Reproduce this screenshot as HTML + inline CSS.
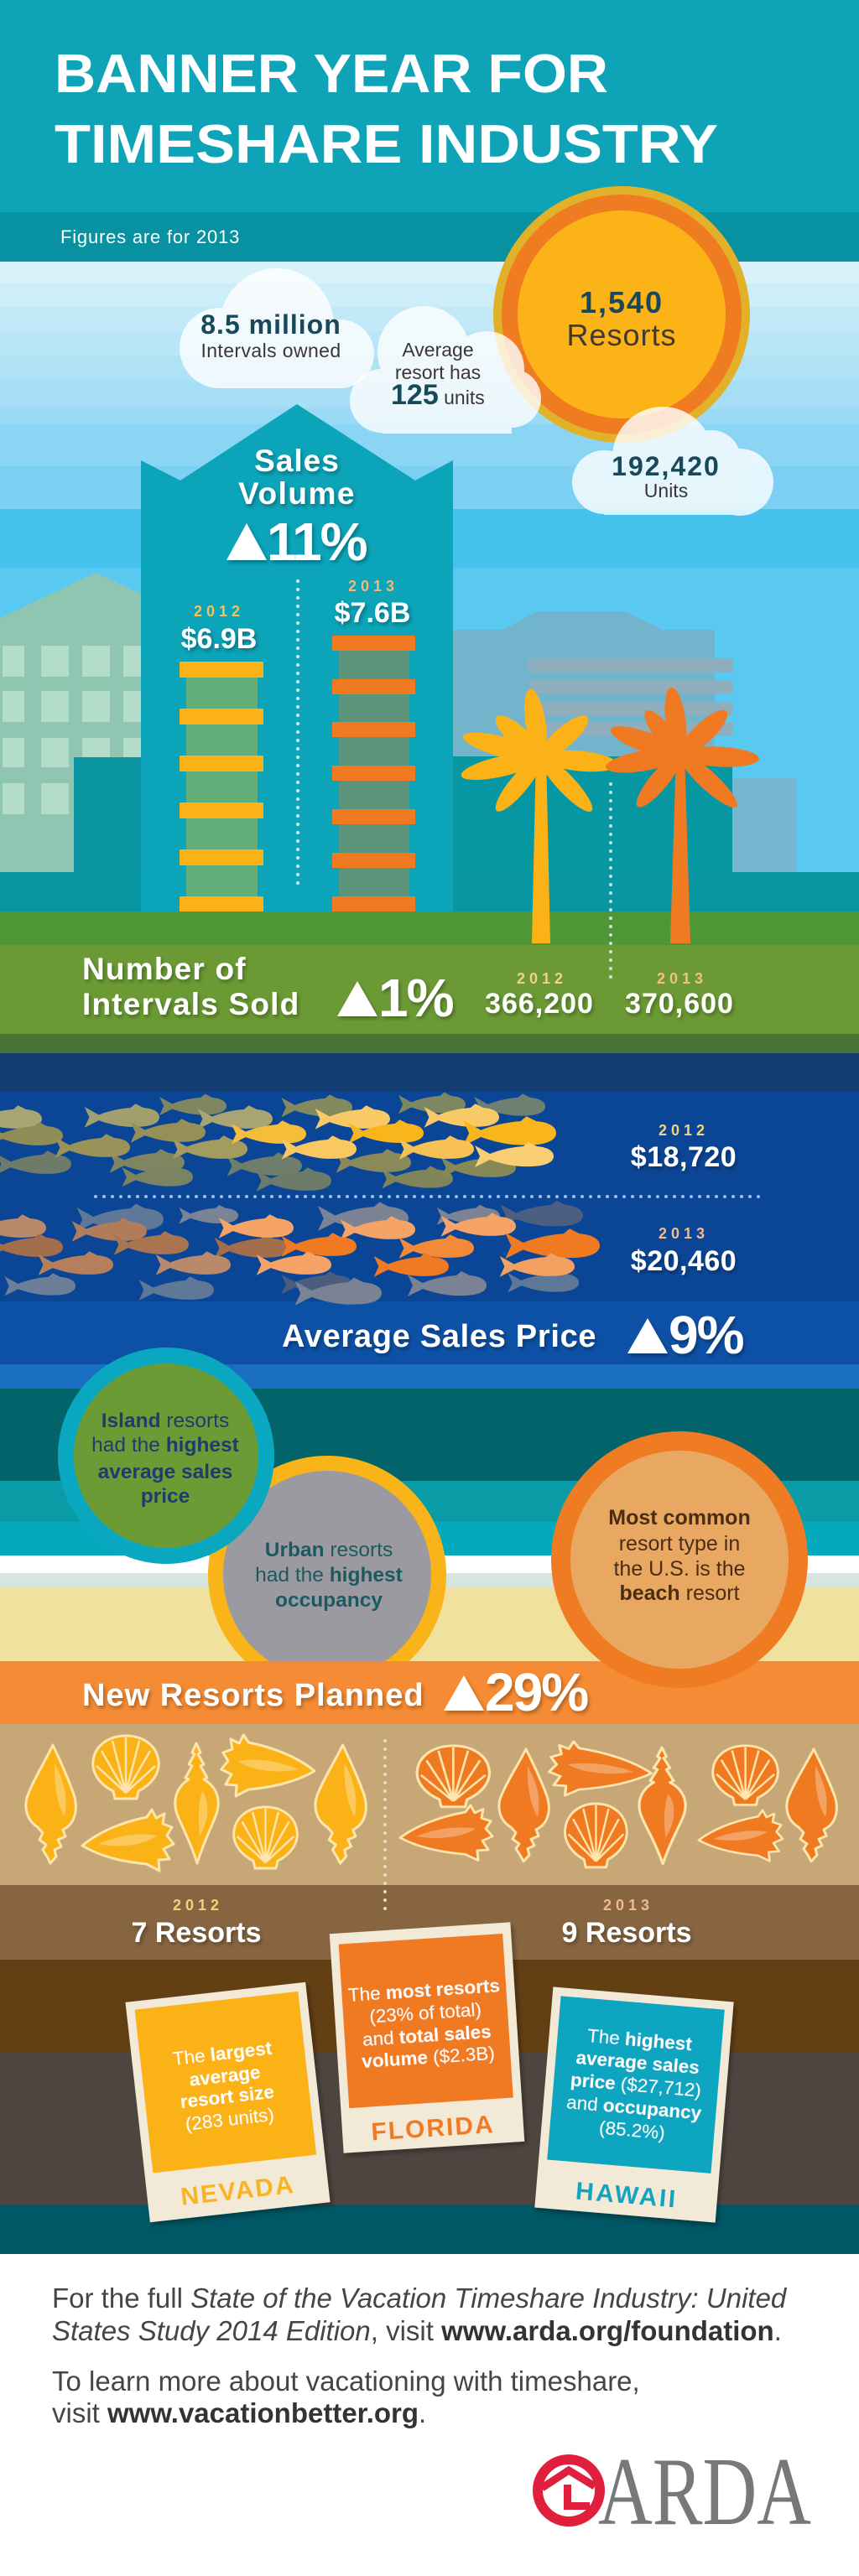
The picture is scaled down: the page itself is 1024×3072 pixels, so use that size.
<!DOCTYPE html>
<html>
<head>
<meta charset="utf-8">
<style>
html,body{margin:0;padding:0;background:#fff;}
svg{display:block;}
text{font-family:"Liberation Sans",Arial,sans-serif;}
</style>
</head>
<body>
<svg width="1024" height="3072" viewBox="0 0 1024 3072" xmlns="http://www.w3.org/2000/svg">
<defs>
<filter id="sh" x="-10%" y="-20%" width="130%" height="160%"><feDropShadow dx="2" dy="3" stdDeviation="2" flood-color="#000" flood-opacity="0.3"/></filter>
<filter id="csh" x="-10%" y="-10%" width="130%" height="130%"><feDropShadow dx="3" dy="4" stdDeviation="3" flood-color="#000" flood-opacity="0.3"/></filter>
<path id="fish" d="M100,13 C100,6 92,2 80,1 L70,-4 L64,1 C50,2 36,5 24,10 L6,0 L12,13 L6,26 L24,17 C38,22 55,26 72,25 C90,25 100,20 100,13 Z"/>
<g id="conchV">
<path fill="currentColor" stroke="#fde6ae" stroke-width="3" stroke-linejoin="round" d="M36,3 C45,22 54,42 61,62 C67,82 61,98 48,104 L51,112 L42,116 L46,124 L38,128 L40,136 L33,144 L29,136 L24,128 L28,122 L20,116 L24,108 L18,101 C5,93 1,77 6,63 C13,44 27,22 36,3 Z"/>
<path fill="#fff" fill-opacity="0.3" d="M38,24 C47,42 55,62 50,88 C42,76 37,52 38,24 Z"/>
</g>
<g id="scallop">
<path fill="currentColor" stroke="#fde6ae" stroke-width="3" stroke-linejoin="round" d="M30,77 L56,77 L58,68 C74,60 84,46 82,32 C80,14 64,2 43,2 C22,2 6,14 4,32 C2,46 12,60 28,68 Z"/>
<path fill="none" stroke="#fde6ae" stroke-width="2.5" d="M43,70 L8,38 M43,70 L14,20 M43,70 L27,8 M43,70 L43,4 M43,70 L59,8 M43,70 L72,20 M43,70 L78,38"/>
</g>
<g id="conchH">
<path fill="currentColor" stroke="#fde6ae" stroke-width="3" stroke-linejoin="round" d="M3,44 C22,28 50,16 80,10 L86,1 L91,11 L101,6 L99,18 L110,22 L104,32 L112,42 L100,48 L107,60 L94,61 L95,74 L80,66 C60,64 30,60 3,44 Z"/>
<path fill="#fff" fill-opacity="0.3" d="M22,42 C45,32 70,28 92,32 C80,42 50,48 22,42 Z"/>
</g>
<g id="spiral">
<path fill="currentColor" stroke="#fde6ae" stroke-width="3" stroke-linejoin="round" d="M29,1 L34,12 L31,14 L38,26 L34,28 L42,42 L38,44 C52,52 58,66 54,82 C50,96 40,112 30,144 C20,112 9,96 5,82 C1,66 7,52 20,44 L16,42 L24,28 L20,26 L27,14 L24,12 Z"/>
<path fill="#fff" fill-opacity="0.3" d="M36,58 C45,70 45,92 33,112 C31,92 31,74 36,58 Z"/>
</g>
</defs>

<!-- ===== HEADER ===== -->
<rect x="0" y="0" width="1024" height="253" fill="#0ea3b6"/>
<rect x="0" y="253" width="1024" height="59" fill="#0892a1"/>
<text x="65" y="110" font-size="65" font-weight="bold" fill="#fff" textLength="660" lengthAdjust="spacingAndGlyphs">BANNER YEAR FOR</text>
<text x="65" y="194" font-size="65" font-weight="bold" fill="#fff" textLength="791" lengthAdjust="spacingAndGlyphs">TIMESHARE INDUSTRY</text>
<text x="72" y="290" font-size="22" fill="#fff" letter-spacing="0.8">Figures are for 2013</text>

<!-- ===== SKY ===== -->
<rect x="0" y="312" width="1024" height="26" fill="#d9f1fa"/>
<rect x="0" y="338" width="1024" height="28" fill="#cdedf9"/>
<rect x="0" y="366" width="1024" height="29" fill="#c3e9f8"/>
<rect x="0" y="395" width="1024" height="29" fill="#b9e6f7"/>
<rect x="0" y="424" width="1024" height="29" fill="#b0e2f6"/>
<rect x="0" y="453" width="1024" height="34" fill="#a6dff5"/>
<rect x="0" y="487" width="1024" height="19" fill="#9adaf5"/>
<rect x="0" y="506" width="1024" height="50" fill="#8ad5f4"/>
<rect x="0" y="556" width="1024" height="51" fill="#7bd0f3"/>
<rect x="0" y="607" width="1024" height="70" fill="#45c3ee"/>
<rect x="0" y="677" width="1024" height="410" fill="#5ac9f2"/>

<!-- background city -->
<polygon points="0,737 114,683 168,708 168,1040 0,1040" fill="#8fc6b1"/>
<g fill="#b4dcca">
<rect x="3" y="770" width="26" height="37"/><rect x="49" y="770" width="33" height="37"/><rect x="98" y="770" width="33" height="37"/><rect x="147" y="770" width="21" height="37"/>
<rect x="3" y="824" width="26" height="37"/><rect x="49" y="824" width="33" height="37"/><rect x="98" y="824" width="33" height="37"/><rect x="147" y="824" width="21" height="37"/>
<rect x="3" y="880" width="26" height="35"/><rect x="49" y="880" width="33" height="35"/><rect x="98" y="880" width="33" height="35"/><rect x="147" y="880" width="21" height="35"/>
<rect x="3" y="934" width="26" height="37"/><rect x="49" y="934" width="33" height="37"/>
</g>
<rect x="88" y="903" width="80" height="137" fill="#0a96a2"/>
<polygon points="540,751 600,751 640,729 745,729 790,751 852,751 852,1087 540,1087" fill="#72b4cc"/>
<g fill="#8eaebe">
<rect x="630" y="785" width="243" height="17"/>
<rect x="630" y="811" width="243" height="16"/>
<rect x="630" y="837" width="243" height="16"/>
<rect x="630" y="862" width="243" height="16"/>
</g>
<rect x="540" y="902" width="333" height="185" fill="#0797a3"/>
<rect x="873" y="928" width="77" height="112" fill="#76b6cf"/>
<rect x="0" y="1040" width="1024" height="47" fill="#0896a2"/>

<!-- sun -->
<circle cx="741" cy="375" r="153" fill="#e2b12a"/>
<circle cx="741" cy="375" r="143" fill="#f07c22"/>
<circle cx="741" cy="375" r="124" fill="#fbb317"/>
<text x="741" y="373" text-anchor="middle" font-size="36" font-weight="bold" fill="#17495b" letter-spacing="2">1,540</text>
<text x="741" y="412" text-anchor="middle" font-size="36" fill="#3f3a36" letter-spacing="1">Resorts</text>

<!-- clouds -->
<g opacity="0.8" fill="#fff">
<circle cx="330" cy="388" r="68"/><circle cx="262" cy="415" r="48"/><circle cx="405" cy="422" r="41"/><rect x="262" y="400" width="143" height="63"/>
</g>
<g opacity="0.8" fill="#fff">
<circle cx="505" cy="420" r="55"/><circle cx="580" cy="440" r="45"/><circle cx="610" cy="475" r="35"/><circle cx="455" cy="478" r="38"/><rect x="455" y="440" width="155" height="77"/>
</g>
<g opacity="0.8" fill="#fff">
<circle cx="790" cy="545" r="60"/><circle cx="720" cy="575" r="38"/><circle cx="882" cy="575" r="40"/><circle cx="848" cy="548" r="35"/><rect x="720" y="560" width="162" height="54"/>
</g>
<text x="323" y="398" text-anchor="middle" font-size="32" font-weight="bold" fill="#17495b" letter-spacing="1">8.5 million</text>
<text x="323" y="426" text-anchor="middle" font-size="23" fill="#3d3535" letter-spacing="0.4">Intervals owned</text>
<text x="522" y="425" text-anchor="middle" font-size="23" fill="#3d3535">Average</text>
<text x="522" y="452" text-anchor="middle" font-size="23" fill="#3d3535">resort has</text>
<text x="466" y="482" font-size="23" fill="#3d3535"><tspan font-size="34" font-weight="bold" fill="#17495b">125</tspan> units</text>
<text x="794" y="567" text-anchor="middle" font-size="32" font-weight="bold" fill="#17495b" letter-spacing="2">192,420</text>
<text x="794" y="593" text-anchor="middle" font-size="23" fill="#3d3535">Units</text>

<!-- sales volume building -->
<polygon points="168,549 215,573 354,482 495,573 540,549 540,1087 168,1087" fill="#0ba4b8"/>
<g filter="url(#sh)" fill="#fff">
<text x="354" y="562" text-anchor="middle" font-size="37" font-weight="bold" letter-spacing="1">Sales</text>
<text x="354" y="601" text-anchor="middle" font-size="37" font-weight="bold" letter-spacing="1.5">Volume</text>
<polygon points="270,668 294,624 318,668"/>
<text x="318" y="668" font-size="64" font-weight="bold" letter-spacing="-2">11%</text>
</g>
<line x1="355" y1="693" x2="355" y2="1061" stroke="#d5f0f3" stroke-width="4" stroke-linecap="round" stroke-dasharray="0 10"/>
<text x="261" y="735" text-anchor="middle" font-size="18" font-weight="bold" fill="#f4c15a" letter-spacing="5">2012</text>
<text x="261" y="773" text-anchor="middle" font-size="34" font-weight="bold" fill="#fff" filter="url(#sh)">$6.9B</text>
<text x="445" y="705" text-anchor="middle" font-size="18" font-weight="bold" fill="#f2b87a" letter-spacing="5">2013</text>
<text x="444" y="742" text-anchor="middle" font-size="34" font-weight="bold" fill="#fff" filter="url(#sh)">$7.6B</text>
<rect x="222" y="795" width="85" height="292" fill="#63ad7b"/>
<g fill="#fbb216">
<rect x="214" y="789" width="100" height="19"/><rect x="214" y="845" width="100" height="19"/><rect x="214" y="901" width="100" height="19"/><rect x="214" y="957" width="100" height="19"/><rect x="214" y="1013" width="100" height="19"/><rect x="214" y="1069" width="100" height="19"/>
</g>
<rect x="404" y="765" width="84" height="322" fill="#5f947c"/>
<g fill="#f07a22">
<rect x="396" y="758" width="99" height="18"/><rect x="396" y="810" width="99" height="18"/><rect x="396" y="861" width="99" height="18"/><rect x="396" y="913" width="99" height="18"/><rect x="396" y="965" width="99" height="18"/><rect x="396" y="1017" width="99" height="18"/><rect x="396" y="1069" width="99" height="18"/>
</g>

<!-- ground -->
<rect x="0" y="1087" width="1024" height="40" fill="#4f9637"/>
<rect x="0" y="1127" width="1024" height="106" fill="#6b9a34"/>
<rect x="0" y="1233" width="1024" height="23" fill="#4a7436"/>

<!-- palms -->
<polygon points="639,898 651,898 656,1125 634,1125" fill="#fbb216"/>
<g fill="#fbb216">
<ellipse cx="638.5" cy="862.5" rx="41" ry="12" transform="rotate(-99.1 638.5 862.5)"/>
<ellipse cx="672.5" cy="879" rx="36.5" ry="12" transform="rotate(-41.1 672.5 879)"/>
<ellipse cx="691" cy="907.5" rx="46" ry="12" transform="rotate(5.6 691 907.5)"/>
<ellipse cx="675" cy="935" rx="44" ry="11" transform="rotate(46.8 675 935)"/>
<ellipse cx="618.5" cy="935" rx="41.5" ry="11" transform="rotate(129.6 618.5 935)"/>
<ellipse cx="597.5" cy="914" rx="49" ry="12" transform="rotate(167 597.5 914)"/>
<ellipse cx="598.5" cy="890.5" rx="48" ry="12" transform="rotate(-165 598.5 890.5)"/>
<ellipse cx="618.5" cy="879" rx="36" ry="12" transform="rotate(-137.8 618.5 879)"/>
</g>
<polygon points="806,896 816,896 823,1125 799,1125" fill="#f07a22"/>
<g fill="#f07a22">
<ellipse cx="805.5" cy="860" rx="40.5" ry="12" transform="rotate(-97.8 805.5 860)"/>
<ellipse cx="838.5" cy="874" rx="38" ry="12" transform="rotate(-43.4 838.5 874)"/>
<ellipse cx="858" cy="902.5" rx="47" ry="12" transform="rotate(3 858 902.5)"/>
<ellipse cx="844.5" cy="931" rx="45.5" ry="11" transform="rotate(42.8 844.5 931)"/>
<ellipse cx="785.5" cy="931" rx="40" ry="11" transform="rotate(129.4 785.5 931)"/>
<ellipse cx="766.5" cy="907.5" rx="45" ry="12" transform="rotate(170.4 766.5 907.5)"/>
<ellipse cx="769.5" cy="885" rx="44" ry="12" transform="rotate(-160 769.5 885)"/>
<ellipse cx="790.5" cy="874" rx="33" ry="11" transform="rotate(-128 790.5 874)"/>
</g>
<line x1="728" y1="935" x2="728" y2="1168" stroke="#c9e6e0" stroke-width="4" stroke-linecap="round" stroke-dasharray="0 10"/>

<g filter="url(#sh)" fill="#fff">
<text x="98" y="1168" font-size="37" font-weight="bold" letter-spacing="1.2">Number of</text>
<text x="98" y="1210" font-size="37" font-weight="bold" letter-spacing="1.2">Intervals Sold</text>
<polygon points="402,1212 426,1170 450,1212"/>
<text x="451" y="1212" font-size="64" font-weight="bold" letter-spacing="-2">1%</text>
<text x="643" y="1208" text-anchor="middle" font-size="34" font-weight="bold" letter-spacing="1">366,200</text>
<text x="810" y="1208" text-anchor="middle" font-size="34" font-weight="bold" letter-spacing="1">370,600</text>
</g>
<text x="646" y="1173" text-anchor="middle" font-size="18" font-weight="bold" fill="#f0d08a" letter-spacing="5">2012</text>
<text x="813" y="1173" text-anchor="middle" font-size="18" font-weight="bold" fill="#f3bd8c" letter-spacing="5">2013</text>

<!-- ===== OCEAN / FISH ===== -->
<rect x="0" y="1256" width="1024" height="46" fill="#133c70"/>
<rect x="0" y="1302" width="1024" height="250" fill="#0b4696"/>
<rect x="0" y="1552" width="1024" height="75" fill="#0d51a6"/>
<rect x="0" y="1627" width="1024" height="29" fill="#1a6fc2"/>

<!-- 2012 fish -->
<use href="#fish" transform="translate(560,1308) scale(0.9)" fill="#6f7f72"/>
<use href="#fish" transform="translate(470,1306) scale(0.85)" fill="#7d8862"/>
<use href="#fish" transform="translate(330,1309) scale(0.9)" fill="#848a5f"/>
<use href="#fish" transform="translate(185,1308) scale(0.85)" fill="#7e8762"/>
<use href="#fish" transform="translate(140,1392) scale(0.9)" fill="#7a8462"/>
<use href="#fish" transform="translate(300,1396) scale(0.95)" fill="#6d7b6b"/>
<use href="#fish" transform="translate(450,1394) scale(0.9)" fill="#808559"/>
<use href="#fish" transform="translate(-10,1376) scale(0.95)" fill="#6e7b69"/>
<use href="#fish" transform="translate(125,1374) scale(0.95)" fill="#7e8560"/>
<use href="#fish" transform="translate(265,1378) scale(0.95)" fill="#6f7d6b"/>
<use href="#fish" transform="translate(395,1374) scale(0.95)" fill="#8a895a"/>
<use href="#fish" transform="translate(520,1380) scale(0.95)" fill="#868858"/>
<use href="#fish" transform="translate(-45,1322) scale(0.95)" fill="#a9a474"/>
<use href="#fish" transform="translate(95,1320) scale(0.95)" fill="#a29e6e"/>
<use href="#fish" transform="translate(230,1322) scale(0.95)" fill="#a9a474"/>
<use href="#fish" transform="translate(-20,1342) scale(0.95)" fill="#8f8c58"/>
<use href="#fish" transform="translate(150,1338) scale(0.95)" fill="#968f58"/>
<use href="#fish" transform="translate(60,1356) scale(0.95)" fill="#99935a"/>
<use href="#fish" transform="translate(200,1358) scale(0.95)" fill="#a39b5f"/>
<use href="#fish" transform="translate(370,1322) scale(0.95)" fill="#f8c967"/>
<use href="#fish" transform="translate(500,1320) scale(0.95)" fill="#f8c967"/>
<use href="#fish" transform="translate(270,1340) scale(0.95)" fill="#f5bd3a"/>
<use href="#fish" transform="translate(410,1339) scale(0.95)" fill="#f8b51c"/>
<use href="#fish" transform="translate(545,1336) scale(1.18)" fill="#f8b51c"/>
<use href="#fish" transform="translate(330,1358) scale(0.95)" fill="#f9c860"/>
<use href="#fish" transform="translate(470,1358) scale(0.95)" fill="#f7c155"/>
<use href="#fish" transform="translate(560,1366) scale(1.0)" fill="#f9ce72"/>

<line x1="114" y1="1427" x2="911" y2="1427" stroke="#9fc0e8" stroke-width="4" stroke-linecap="round" stroke-dasharray="0 10"/>

<!-- 2013 fish -->
<use href="#fish" transform="translate(590,1436) scale(1.05)" fill="#4c5f80"/>
<use href="#fish" transform="translate(516,1440) scale(0.8)" fill="#7c8493"/>
<use href="#fish" transform="translate(372,1438) scale(1.15)" fill="#7a8394"/>
<use href="#fish" transform="translate(209,1440) scale(0.75)" fill="#7b8496"/>
<use href="#fish" transform="translate(85,1440) scale(1.1)" fill="#5f7898"/>
<use href="#fish" transform="translate(0,1522) scale(0.9)" fill="#6d7f98"/>
<use href="#fish" transform="translate(160,1526) scale(0.95)" fill="#5f7898"/>
<use href="#fish" transform="translate(330,1520) scale(0.9)" fill="#4b5d7e"/>
<use href="#fish" transform="translate(345,1528) scale(1.1)" fill="#7a8394"/>
<use href="#fish" transform="translate(480,1520) scale(1.0)" fill="#7a8394"/>
<use href="#fish" transform="translate(600,1518) scale(0.9)" fill="#5f7898"/>
<use href="#fish" transform="translate(-40,1452) scale(0.95)" fill="#b8896a"/>
<use href="#fish" transform="translate(80,1456) scale(0.95)" fill="#b07c5a"/>
<use href="#fish" transform="translate(-20,1475) scale(0.95)" fill="#a36e4c"/>
<use href="#fish" transform="translate(130,1472) scale(0.95)" fill="#a87550"/>
<use href="#fish" transform="translate(250,1476) scale(0.95)" fill="#a36e4c"/>
<use href="#fish" transform="translate(40,1496) scale(0.95)" fill="#b3805b"/>
<use href="#fish" transform="translate(180,1496) scale(0.95)" fill="#b8896a"/>
<use href="#fish" transform="translate(255,1452) scale(0.95)" fill="#f5a366"/>
<use href="#fish" transform="translate(400,1454) scale(0.95)" fill="#f5a366"/>
<use href="#fish" transform="translate(520,1450) scale(0.95)" fill="#f5a366"/>
<use href="#fish" transform="translate(330,1474) scale(0.95)" fill="#f07a22"/>
<use href="#fish" transform="translate(470,1476) scale(0.95)" fill="#f28a3a"/>
<use href="#fish" transform="translate(595,1470) scale(1.2)" fill="#f07a22"/>
<use href="#fish" transform="translate(300,1496) scale(0.95)" fill="#f5a366"/>
<use href="#fish" transform="translate(440,1498) scale(0.95)" fill="#f07a22"/>
<use href="#fish" transform="translate(590,1498) scale(0.95)" fill="#f4a060"/>

<text x="815" y="1354" text-anchor="middle" font-size="18" font-weight="bold" fill="#f4d27e" letter-spacing="5">2012</text>
<text x="815" y="1391" text-anchor="middle" font-size="34" font-weight="bold" fill="#fff" letter-spacing="0.5" filter="url(#sh)">$18,720</text>
<text x="815" y="1477" text-anchor="middle" font-size="18" font-weight="bold" fill="#f3b98a" letter-spacing="5">2013</text>
<text x="815" y="1515" text-anchor="middle" font-size="34" font-weight="bold" fill="#fff" letter-spacing="0.5" filter="url(#sh)">$20,460</text>
<g filter="url(#sh)" fill="#fff">
<text x="336" y="1606" font-size="38" font-weight="bold" letter-spacing="0.7">Average Sales Price</text>
<polygon points="748,1614 772,1572 796,1614"/>
<text x="797" y="1614" font-size="64" font-weight="bold" letter-spacing="-2">9%</text>
</g>

<!-- ===== BEACH / CIRCLES ===== -->
<rect x="0" y="1656" width="1024" height="110" fill="#03636a"/>
<rect x="0" y="1766" width="1024" height="49" fill="#0a9ca6"/>
<rect x="0" y="1815" width="1024" height="40" fill="#04a9bd"/>
<rect x="0" y="1855" width="1024" height="21" fill="#ffffff"/>
<rect x="0" y="1876" width="1024" height="18" fill="#d6e6df"/>
<rect x="0" y="1894" width="1024" height="87" fill="#f0e19d"/>

<circle cx="390" cy="1878" r="142" fill="#f8b418"/>
<circle cx="390" cy="1878" r="124" fill="#9b9aa0"/>
<circle cx="198" cy="1736" r="129" fill="#0aa8c0"/>
<circle cx="198" cy="1736" r="110" fill="#6c9b36"/>
<text x="197" y="1702" text-anchor="middle" font-size="24.5" fill="#1c3d6e"><tspan font-weight="bold">Island</tspan> resorts</text>
<text x="197" y="1731" text-anchor="middle" font-size="24.5" fill="#1c3d6e">had the <tspan font-weight="bold">highest</tspan></text>
<text x="197" y="1763" text-anchor="middle" font-size="24.5" font-weight="bold" fill="#1c3d6e">average sales</text>
<text x="197" y="1792" text-anchor="middle" font-size="24.5" font-weight="bold" fill="#1c3d6e">price</text>

<rect x="0" y="1981" width="1024" height="75" fill="#f58b34"/>

<text x="392" y="1856" text-anchor="middle" font-size="24.5" fill="#1b5b60"><tspan font-weight="bold">Urban</tspan> resorts</text>
<text x="392" y="1886" text-anchor="middle" font-size="24.5" fill="#1b5b60">had the <tspan font-weight="bold">highest</tspan></text>
<text x="392" y="1916" text-anchor="middle" font-size="24.5" font-weight="bold" fill="#1b5b60">occupancy</text>

<circle cx="810" cy="1860" r="153" fill="#ef7b22"/>
<circle cx="810" cy="1860" r="130" fill="#e8a862"/>
<text x="810" y="1818" text-anchor="middle" font-size="25" font-weight="bold" fill="#4b2d13">Most common</text>
<text x="810" y="1849" text-anchor="middle" font-size="25" fill="#4b2d13">resort type in</text>
<text x="810" y="1879" text-anchor="middle" font-size="25" fill="#4b2d13">the U.S. is the</text>
<text x="810" y="1908" text-anchor="middle" font-size="25" fill="#4b2d13"><tspan font-weight="bold">beach</tspan> resort</text>

<g filter="url(#sh)" fill="#fff">
<text x="98" y="2034" font-size="38" font-weight="bold" letter-spacing="1">New Resorts Planned</text>
<polygon points="529,2040 553,1998 577,2040"/>
<text x="578" y="2040" font-size="64" font-weight="bold" letter-spacing="-2">29%</text>
</g>

<!-- ===== SHELLS ===== -->
<rect x="0" y="2056" width="1024" height="192" fill="#c8a777"/>
<rect x="0" y="2248" width="1024" height="89" fill="#876541"/>
<rect x="0" y="2337" width="1024" height="110" fill="#633f14"/>
<rect x="0" y="2447" width="1024" height="182" fill="#4f4540"/>
<rect x="0" y="2629" width="1024" height="59" fill="#005765"/>

<g color="#fbb216">
<use href="#conchV" transform="translate(27,2078)"/>
<use href="#scallop" transform="translate(107,2068)"/>
<use href="#conchH" transform="translate(95,2157)"/>
<use href="#spiral" transform="translate(205,2078)"/>
<use href="#conchH" transform="translate(378,2068) scale(-1.02,1)"/>
<use href="#scallop" transform="translate(275,2153) scale(0.965,0.974)"/>
<use href="#conchV" transform="translate(372,2078) scale(1.015,1)"/>
</g>
<g color="#f07a22">
<use href="#scallop" transform="translate(493,2080) scale(1.1,0.97)"/>
<use href="#conchH" transform="translate(474,2152) scale(1.01,0.9)"/>
<use href="#conchV" transform="translate(591,2083) scale(1,0.95)"/>
<use href="#conchH" transform="translate(780,2076) scale(-1.12,0.88)"/>
<use href="#scallop" transform="translate(670,2149) scale(0.94,1.01)"/>
<use href="#spiral" transform="translate(758,2083) scale(1.07,0.97)"/>
<use href="#scallop" transform="translate(846,2080) scale(0.99,0.94)"/>
<use href="#conchH" transform="translate(830,2158) scale(0.92,0.83)"/>
<use href="#conchV" transform="translate(934,2083) scale(1,0.95)"/>
</g>
<line x1="459" y1="2076" x2="459" y2="2280" stroke="#e8dcc8" stroke-width="4" stroke-linecap="round" stroke-dasharray="0 10"/>

<text x="236" y="2278" text-anchor="middle" font-size="18" font-weight="bold" fill="#f4d27e" letter-spacing="5">2012</text>
<text x="234" y="2316" text-anchor="middle" font-size="34" font-weight="bold" fill="#fff" filter="url(#sh)">7 Resorts</text>
<text x="749" y="2278" text-anchor="middle" font-size="18" font-weight="bold" fill="#f2b98a" letter-spacing="5">2013</text>
<text x="747" y="2316" text-anchor="middle" font-size="34" font-weight="bold" fill="#fff" filter="url(#sh)">9 Resorts</text>

<!-- ===== CARDS ===== -->
<g transform="translate(271.5,2507) rotate(-6.4)" filter="url(#csh)">
<rect x="-108" y="-132" width="216" height="264" fill="#f2e9d6"/>
<rect x="-98" y="-122" width="196" height="196" fill="#fbb216"/>
<g fill="#fff" font-size="22.5" text-anchor="middle">
<text x="0" y="-51">The <tspan font-weight="bold">largest</tspan></text>
<text x="0" y="-24" font-weight="bold">average</text>
<text x="0" y="1" font-weight="bold">resort size</text>
<text x="0" y="28">(283 units)</text>
</g>
<text x="0" y="116" text-anchor="middle" font-size="30" font-weight="bold" fill="#f9b31b" letter-spacing="2">NEVADA</text>
</g>
<g transform="translate(509,2430) rotate(-3.7)" filter="url(#csh)">
<rect x="-108" y="-131" width="216" height="262" fill="#f2e9d6"/>
<rect x="-98" y="-118" width="196" height="196" fill="#f07a22"/>
<g fill="#fff" font-size="22.5" text-anchor="middle">
<text x="0" y="-49">The <tspan font-weight="bold">most resorts</tspan></text>
<text x="0" y="-22">(23% of total)</text>
<text x="0" y="5">and <tspan font-weight="bold">total sales</tspan></text>
<text x="0" y="31"><tspan font-weight="bold">volume</tspan> ($2.3B)</text>
</g>
<text x="0" y="118" text-anchor="middle" font-size="30" font-weight="bold" fill="#f07a22" letter-spacing="2">FLORIDA</text>
</g>
<g transform="translate(756,2510) rotate(4.8)" filter="url(#csh)">
<rect x="-108" y="-132" width="216" height="264" fill="#f2e9d6"/>
<rect x="-98" y="-122" width="196" height="196" fill="#0aa5bf"/>
<g fill="#fff" font-size="22.5" text-anchor="middle">
<text x="0" y="-70">The <tspan font-weight="bold">highest</tspan></text>
<text x="0" y="-43" font-weight="bold">average sales</text>
<text x="0" y="-16"><tspan font-weight="bold">price</tspan> ($27,712)</text>
<text x="0" y="11">and <tspan font-weight="bold">occupancy</tspan></text>
<text x="0" y="38">(85.2%)</text>
</g>
<text x="0" y="118" text-anchor="middle" font-size="30" font-weight="bold" fill="#0aa5bf" letter-spacing="2.5">HAWAII</text>
</g>

<!-- ===== FOOTER ===== -->
<rect x="0" y="2688" width="1024" height="384" fill="#ffffff"/>
<g font-size="33" fill="#454545">
<text x="62" y="2752">For the full <tspan font-style="italic">State of the Vacation Timeshare Industry: United</tspan></text>
<text x="62" y="2791"><tspan font-style="italic">States Study 2014 Edition</tspan>, visit <tspan font-weight="bold" fill="#333">www.arda.org/foundation</tspan>.</text>
<text x="62" y="2851">To learn more about vacationing with timeshare,</text>
<text x="62" y="2889">visit <tspan font-weight="bold" fill="#333">www.vacationbetter.org</tspan>.</text>
</g>

<!-- ARDA logo -->
<circle cx="678" cy="2970" r="37" fill="none" stroke="#e01f3d" stroke-width="12"/>
<polyline points="646,2967 678,2946 709,2965" fill="none" stroke="#e01f3d" stroke-width="9" stroke-linejoin="miter"/>
<rect x="672" y="2963" width="9" height="26" fill="#e01f3d"/>
<rect x="672" y="2984" width="31" height="9" fill="#e01f3d"/>
<text x="713" y="3010" style="font-family:'Liberation Serif','Times New Roman',serif" font-size="116" fill="#77787b" textLength="254" lengthAdjust="spacingAndGlyphs">ARDA</text>
</svg>
</body>
</html>
